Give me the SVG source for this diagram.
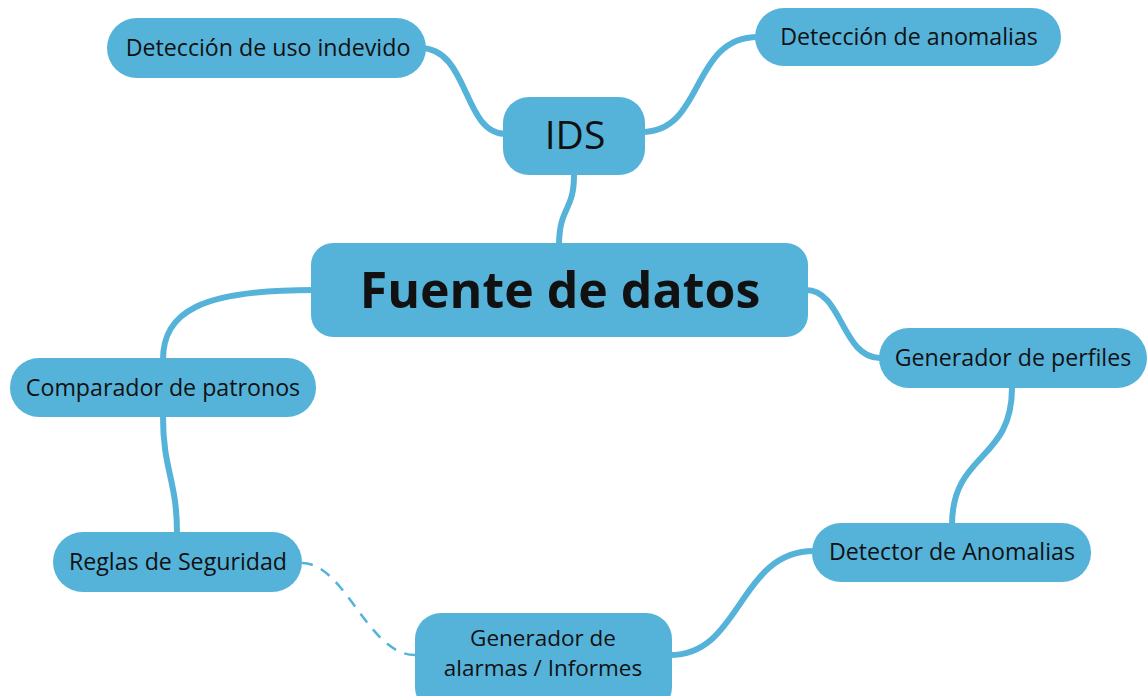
<svg xmlns="http://www.w3.org/2000/svg" width="1147" height="696" viewBox="0 0 1147 696">
<style>
.n{fill:#55b3da}
.t{font-family:"Open Sans","Noto Sans","Liberation Sans",sans-serif;font-size:23.2px;fill:#111;text-anchor:middle}
.c{fill:none;stroke:#55b3da;stroke-width:6;stroke-linecap:round}
.d{fill:none;stroke:#55b3da;stroke-width:2.5;stroke-dasharray:11 9}
</style>
<rect width="1147" height="696" fill="#fff"/>
<g id="connectors">
<path class="c" d="M 420 48 C 470 48 462 134 506 134"/>
<path class="c" d="M 642 132 C 705 132 690 37 758 37"/>
<path class="c" d="M 574 175 C 574 212 559 206 559 246"/>
<path class="c" d="M 314 290 C 200 290 163 312 163 360"/>
<path class="c" d="M 163 417 C 163 470 177 480 177 533"/>
<path class="c" d="M 806 290 C 842 290 842 358 880 358"/>
<path class="c" d="M 1012 388 C 1012 462 952 452 952 525"/>
<path class="c" d="M 814 551 C 738 551 742 655 670 655"/>
<path class="d" d="M 302 563 C 345 563 368 655 415 655"/>
</g>
<g id="n-uso"><rect class="n" x="107" y="18" width="319" height="60" rx="30"/><text class="t" x="268" y="56">Detección de uso indevido</text></g>
<g id="n-anom"><rect class="n" x="755" y="8" width="306" height="58" rx="29"/><text class="t" x="909" y="45">Detección de anomalias</text></g>
<g id="n-ids"><rect class="n" x="503" y="97" width="142" height="78" rx="26"/><text class="t" x="575" y="149" style="font-size:39px">IDS</text></g>
<g id="n-fuente"><rect class="n" x="311" y="243" width="497" height="94" rx="22"/><text class="t" x="560" y="308" style="font-size:50px;font-weight:bold">Fuente de datos</text></g>
<g id="n-perfiles"><rect class="n" x="879" y="328" width="268" height="60" rx="30"/><text class="t" x="1013" y="366">Generador de perfiles</text></g>
<g id="n-comp"><rect class="n" x="10" y="358" width="306" height="59" rx="29"/><text class="t" x="163" y="396">Comparador de patronos</text></g>
<g id="n-reglas"><rect class="n" x="53" y="532" width="249" height="60" rx="30"/><text class="t" x="178" y="570">Reglas de Seguridad</text></g>
<g id="n-detector"><rect class="n" x="812" y="523" width="279" height="59" rx="29"/><text class="t" x="952" y="560">Detector de Anomalias</text></g>
<g id="n-alarmas"><rect class="n" x="415" y="613" width="257" height="100" rx="26"/><text class="t" x="543" y="646" style="font-size:22.5px">Generador de</text><text class="t" x="543" y="676" style="font-size:22.5px">alarmas / Informes</text></g>
</svg>
